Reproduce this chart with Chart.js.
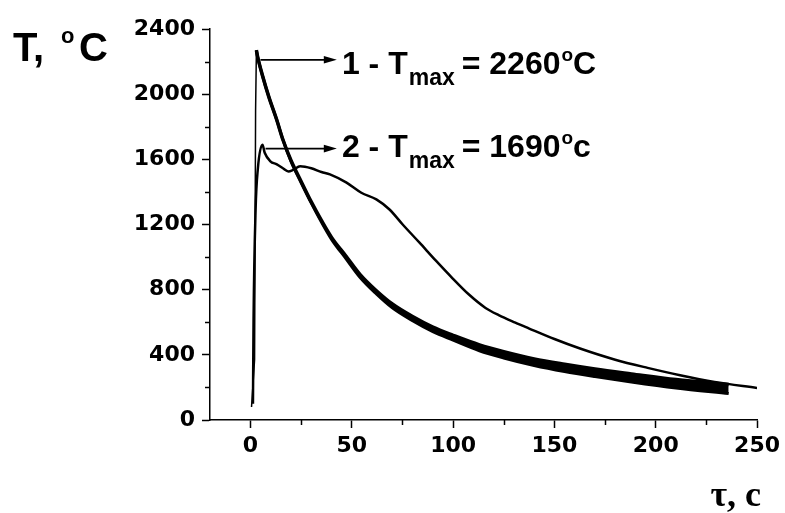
<!DOCTYPE html>
<html>
<head>
<meta charset="utf-8">
<script src="https://cdn.jsdelivr.net/npm/chart.js@4.4.0/dist/chart.umd.min.js"></script>
<style>
html,body{margin:0;padding:0;background:#fff;}
canvas{display:block;}
</style>
</head>
<body>
<canvas id="c" width="785" height="513"></canvas>
<script>
// ---- tick labels ----
const xTicks = [0, 50, 100, 150, 200, 250];
const yTicks = [0, 400, 800, 1200, 1600, 2000, 2400];
const xMinorTicks = [25, 75, 125, 175, 225];
const yMinorTicks = [200, 600, 1000, 1400, 1800, 2200];

// ---- curve 1 (Tmax = 2260) ----
const c1RiseT = [0.5, 2.0, 2.5, 2.9];
const c1RiseV = [80, 370, 1900, 2270];
const c1BandT = [2.9, 3.5, 6, 9, 13, 16, 20, 25, 30, 35, 40, 47, 54, 62, 70, 80, 90, 100, 113, 125, 140, 155, 170, 188, 210, 236];
const c1UpperV = [2270, 2230, 2110, 1985, 1840, 1720, 1593, 1464, 1339, 1225, 1121, 1008, 894, 795, 712, 635, 570, 520, 461, 419, 375, 342, 313, 283, 248, 218];
const c1LowerV = [2270, 2230, 2110, 1985, 1840, 1720, 1587, 1456, 1331, 1215, 1109, 992, 876, 775, 688, 609, 542, 490, 425, 381, 335, 298, 267, 233, 196, 162];

// ---- curve 2 (Tmax = 1690) ----
const c2T = [1.2, 1.5, 2.5, 3.6, 5.9, 7, 9.8, 13, 16, 18.7, 21, 24.5, 30, 35, 39.2, 47.4, 54.7, 62.1, 68.6, 75.1, 83.3, 91.5, 99.7, 107.8, 116, 122.5, 130.7, 137.3, 150, 163, 180, 196, 212, 229, 250];
const c2V = [100, 615, 1290, 1540, 1690, 1640, 1588, 1569, 1545, 1526, 1535, 1557, 1545, 1522, 1508, 1457, 1395, 1354, 1292, 1200, 1090, 978, 870, 770, 688, 644, 598, 563, 497, 437, 370, 320, 275, 234, 197];

// ---- annotations ----
const arrowLevels = [2211, 1666];
const arrowStartT = [4.9, 7.4];
const arrowEndT = [42.6, 42.6];
const labelStartT = [45.1, 45.1];
const labelBaseV = [2123, 1612];
const labelNums = ['1', '2'];
const labelValues = ['2260', '1690'];
const labelUnits = ['C', 'c'];

function pts(xs, ys) { return xs.map((x, i) => ({x: x, y: ys[i]})); }

const datasets = [
  {data: pts(c1RiseT, c1RiseV), borderColor: '#000', borderWidth: 1.5, tension: 0},
  {data: pts(c1BandT, c1UpperV), borderColor: '#000', borderWidth: 3.5, cubicInterpolationMode: 'monotone'},
  {data: pts(c1BandT, c1LowerV), borderColor: '#000', borderWidth: 3, cubicInterpolationMode: 'monotone',
   fill: {target: 1}, backgroundColor: '#000'},
  {data: pts(c2T, c2V), borderColor: '#000', borderWidth: 2.5, cubicInterpolationMode: 'monotone'}
];
arrowLevels.forEach((lv, i) => {
  datasets.push({data: [{x: arrowStartT[i], y: lv}, {x: arrowEndT[i] - 3, y: lv}], borderColor: '#000', borderWidth: 1.8, tension: 0});
});

const tickFont = {family: "'DejaVu Sans', sans-serif", weight: 'bold', size: 22};

const decor = {
  id: 'decor',
  afterDraw(chart) {
    const ctx = chart.ctx, xs = chart.scales.x, ys = chart.scales.y;
    const ca = chart.chartArea;
    ctx.save();
    ctx.strokeStyle = '#000'; ctx.fillStyle = '#000'; ctx.lineWidth = 1.5;
    // minor ticks
    yMinorTicks.forEach(v => {
      const py = Math.round(ys.getPixelForValue(v)) + 0.5;
      ctx.beginPath(); ctx.moveTo(ca.left - 5, py); ctx.lineTo(ca.left, py); ctx.stroke();
    });
    xMinorTicks.forEach(v => {
      const px = Math.round(xs.getPixelForValue(v)) + 0.5;
      ctx.beginPath(); ctx.moveTo(px, ca.bottom); ctx.lineTo(px, ca.bottom + 5); ctx.stroke();
    });
    // arrowheads
    arrowLevels.forEach((lv, i) => {
      const tipX = xs.getPixelForValue(arrowEndT[i]);
      const py = ys.getPixelForValue(lv);
      ctx.beginPath();
      ctx.moveTo(tipX, py);
      ctx.lineTo(tipX - 13, py - 3.8);
      ctx.lineTo(tipX - 13, py + 3.8);
      ctx.closePath(); ctx.fill();
    });
    // annotation texts
    ctx.textBaseline = 'alphabetic'; ctx.textAlign = 'left';
    labelNums.forEach((n, i) => {
      let x = xs.getPixelForValue(labelStartT[i]);
      const base = ys.getPixelForValue(labelBaseV[i]);
      ctx.font = "bold 32px 'Liberation Sans', Arial, sans-serif";
      ctx.fillText(n + ' - T', x, base);
      x += ctx.measureText(n + ' - T').width + 1;
      ctx.font = "bold 23px 'Liberation Sans', Arial, sans-serif";
      ctx.fillText('max', x, base + 11);
      x += ctx.measureText('max').width + 7;
      ctx.font = "bold 32px 'Liberation Sans', Arial, sans-serif";
      ctx.fillText('= ' + labelValues[i], x, base);
      x += ctx.measureText('= ' + labelValues[i]).width + 1;
      ctx.font = "bold 19px 'Liberation Sans', Arial, sans-serif";
      ctx.fillText('o', x, base - 13);
      x += ctx.measureText('o').width;
      ctx.font = "bold 32px 'Liberation Sans', Arial, sans-serif";
      ctx.fillText(labelUnits[i], x, base);
    });
    // y-axis title
    ctx.font = "bold 40px 'Liberation Sans', Arial, sans-serif";
    ctx.fillText('T,', 13, 61);
    ctx.font = "bold 22px 'Liberation Sans', Arial, sans-serif";
    ctx.fillText('o', 61, 43);
    ctx.font = "bold 40px 'Liberation Sans', Arial, sans-serif";
    ctx.fillText('C', 79, 61);
    // x-axis title
    ctx.textAlign = 'right';
    ctx.font = "bold 36px 'Liberation Serif', 'Times New Roman', serif";
    ctx.fillText('\u03C4, c', 761, 506);
    ctx.restore();
  }
};

new Chart(document.getElementById('c'), {
  type: 'scatter',
  data: {datasets: datasets},
  options: {
    responsive: false,
    animation: false,
    devicePixelRatio: 1,
    showLine: true,
    elements: {point: {radius: 0, hoverRadius: 0}, line: {fill: false}},
    layout: {padding: {top: 29, right: 25, left: 0, bottom: 0}},
    plugins: {legend: {display: false}, tooltip: {enabled: false}},
    scales: {
      x: {
        type: 'linear', min: -20, max: 250,
        afterBuildTicks: s => { s.ticks = xTicks.map(v => ({value: v})); },
        afterFit: s => { s.height = 93; },
        ticks: {font: tickFont, color: '#000', padding: 5, maxRotation: 0, autoSkip: false, callback: v => String(v)},
        grid: {display: true, drawOnChartArea: false, drawTicks: true, tickLength: 8, tickColor: '#000', tickWidth: 1.5},
        border: {display: true, color: '#000', width: 1.5}
      },
      y: {
        type: 'linear', min: 0, max: 2400,
        afterBuildTicks: s => { s.ticks = yTicks.map(v => ({value: v})); },
        afterFit: s => { s.width = 210; },
        ticks: {font: tickFont, color: '#000', padding: 7, autoSkip: false, callback: v => String(v)},
        grid: {display: true, drawOnChartArea: false, drawTicks: true, tickLength: 8, tickColor: '#000', tickWidth: 1.5},
        border: {display: true, color: '#000', width: 1.5}
      }
    }
  },
  plugins: [decor]
});
</script>
</body>
</html>
